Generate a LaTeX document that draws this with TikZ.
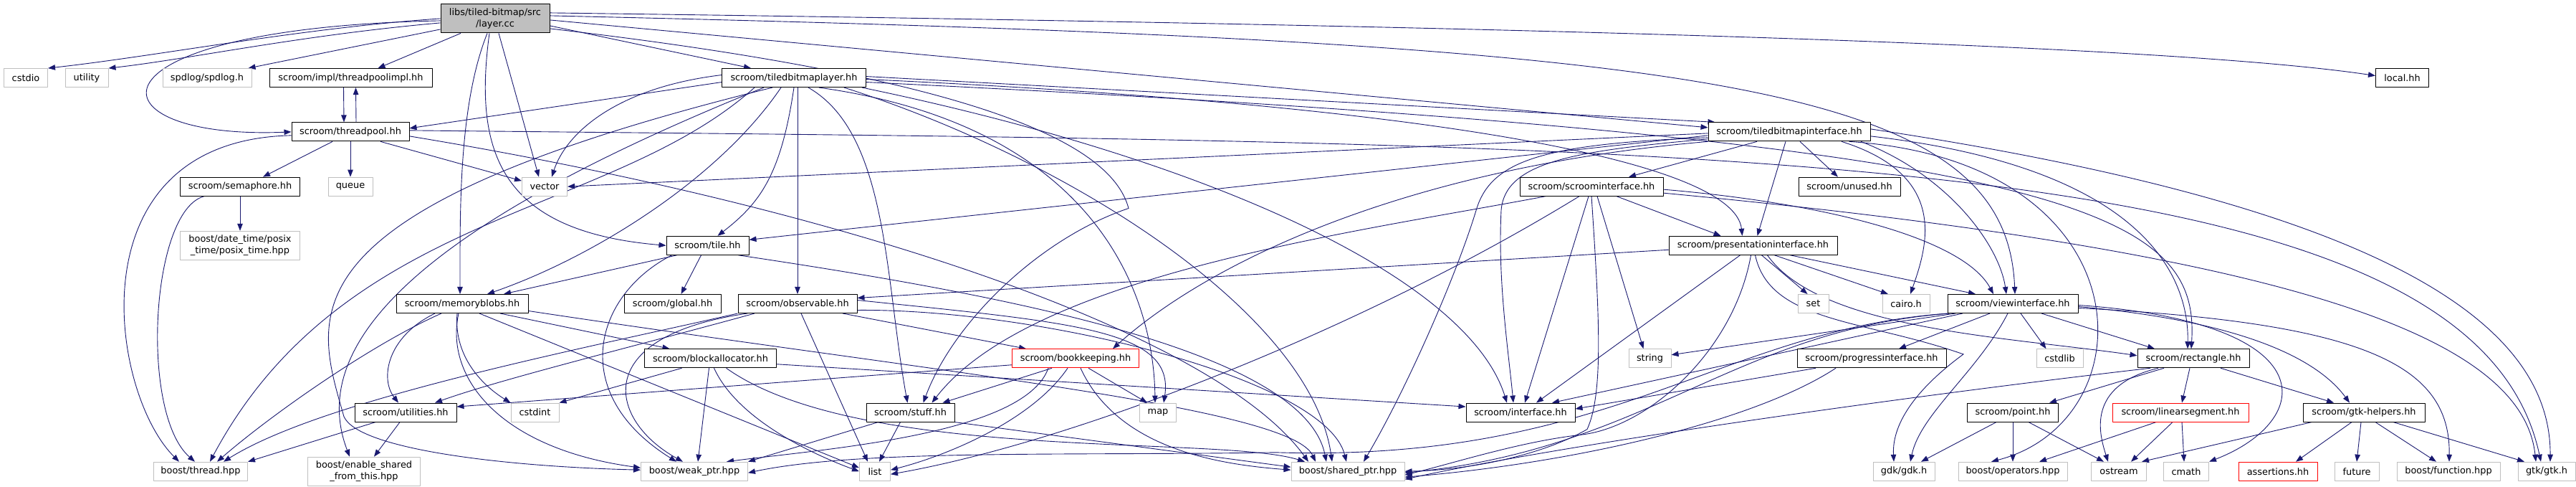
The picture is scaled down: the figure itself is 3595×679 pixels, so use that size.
\documentclass[tikz,border=0pt]{standalone}
\usepackage{fontspec}
\setmainfont{DejaVu Sans}
\usetikzlibrary{arrows.meta,backgrounds}
\definecolor{edgeblue}{HTML}{191970}
\definecolor{sysgray}{HTML}{BFBFBF}
\begin{document}
\begin{tikzpicture}[x=1pt,y=-0.978pt,line cap=round,line join=round,
  box/.style={rectangle,inner sep=0pt,minimum height=26pt,line width=1pt,fill=white,align=center,font=\fontsize{12.9}{15.5}\selectfont},
  hdr/.style={box,draw=black},
  sys/.style={box,draw=sysgray},
  trunc/.style={box,draw=red},
  root/.style={box,draw=black,fill=sysgray,minimum height=40pt},
  bw/.style={minimum width=#1pt},
  dep/.style={draw=edgeblue,line width=0.9pt,-{Triangle[length=10pt,width=7.5pt]}}]
\useasboundingbox (0pt,0pt) rectangle (3595pt,-679pt);
\node[root,bw=152] (layer) at (691,26.5) {libs/tiled-bitmap/src\\/layer.cc};
\node[sys,bw=61] (cstdio) at (36,111) {cstdio};
\node[sys,bw=60] (utility) at (121,111) {utility};
\node[sys,bw=124] (spdlog) at (289,111) {spdlog/spdlog.h};
\node[hdr,bw=227] (tpimpl) at (489.5,111) {scroom/impl/threadpoolimpl.hh};
\node[hdr,bw=201] (tblayer) at (1108,111) {scroom/tiledbitmaplayer.hh};
\node[hdr,bw=74] (local) at (3352.5,111) {local.hh};
\node[hdr,bw=164] (threadpool) at (489,188) {scroom/threadpool.hh};
\node[hdr,bw=226] (tbiface) at (2497,188) {scroom/tiledbitmapinterface.hh};
\node[hdr,bw=167] (semaphore) at (335,266) {scroom/semaphore.hh};
\node[sys,bw=62] (queue) at (489,266) {queue};
\node[sys,bw=63] (vector) at (760,266) {vector};
\node[hdr,bw=200] (scroomiface) at (2221,266) {scroom/scroominterface.hh};
\node[hdr,bw=142] (unused) at (2581,266) {scroom/unused.hh};
\node[sys,bw=167,minimum height=40pt] (posixtime) at (335,350) {boost/date\_time/posix\\\_time/posix\_time.hpp};
\node[hdr,bw=115] (tile) at (987.5,350) {scroom/tile.hh};
\node[hdr,bw=235] (presiface) at (2446.5,350) {scroom/presentationinterface.hh};
\node[hdr,bw=184] (memblobs) at (645,433) {scroom/memoryblobs.hh};
\node[hdr,bw=135] (global) at (938.5,433) {scroom/global.hh};
\node[hdr,bw=166] (observable) at (1113,433) {scroom/observable.hh};
\node[sys,bw=43] (set) at (2530.5,433) {set};
\node[sys,bw=66] (cairo) at (2660,433) {cairo.h};
\node[hdr,bw=182] (viewiface) at (2809,433) {scroom/viewinterface.hh};
\node[hdr,bw=184] (blockalloc) at (991.5,511) {scroom/blockallocator.hh};
\node[trunc,bw=177] (bookkeeping) at (1501,511) {scroom/bookkeeping.hh};
\node[sys,bw=59] (string) at (2302.5,511) {string};
\node[hdr,bw=208] (progress) at (2612,511) {scroom/progressinterface.hh};
\node[sys,bw=65] (cstdlib) at (2874.5,511) {cstdlib};
\node[hdr,bw=156] (rectangle) at (3061,511) {scroom/rectangle.hh};
\node[hdr,bw=142] (utilities) at (566,588) {scroom/utilities.hh};
\node[sys,bw=67] (cstdint) at (746.5,588) {cstdint};
\node[hdr,bw=123] (stuff) at (1270.5,588) {scroom/stuff.hh};
\node[sys,bw=51] (map) at (1616,588) {map};
\node[hdr,bw=152] (iface) at (2122,588) {scroom/interface.hh};
\node[hdr,bw=127] (point) at (2809,588) {scroom/point.hh};
\node[trunc,bw=190] (linseg) at (3043,588) {scroom/linearsegment.hh};
\node[hdr,bw=170] (gtkhelpers) at (3299,588) {scroom/gtk-helpers.hh};
\node[sys,bw=131] (thread) at (280,672) {boost/thread.hpp};
\node[sys,bw=157,minimum height=40pt] (enableshared) at (508,672) {boost/enable\_shared\\\_from\_this.hpp};
\node[sys,bw=149] (weakptr) at (969,672) {boost/weak\_ptr.hpp};
\node[sys,bw=43] (list) at (1221,672) {list};
\node[sys,bw=158] (sharedptr) at (1881,672) {boost/shared\_ptr.hpp};
\node[sys,bw=86] (gdk) at (2657,672) {gdk/gdk.h};
\node[sys,bw=152] (operators) at (2809,672) {boost/operators.hpp};
\node[sys,bw=77] (ostream) at (2957,672) {ostream};
\node[sys,bw=63] (cmath) at (3051,672) {cmath};
\node[trunc,bw=110] (assertions) at (3179,672) {assertions.hh};
\node[sys,bw=62] (future) at (3289,672) {future};
\node[sys,bw=144] (function) at (3417,672) {boost/function.hpp};
\node[sys,bw=80] (gtk) at (3554,672) {gtk/gtk.h};
\begin{pgfonlayer}{background}
\draw[dep] (layer.west) .. controls (420,40) and (220,80) .. (cstdio.north east);
\draw[dep] ([yshift=-6pt]layer.west) .. controls (420,50) and (260,85) .. (utility.north east);
\draw[dep] ([yshift=-15pt]layer.west) -- ([xshift=-5pt]spdlog.north east);
\draw[dep] ([xshift=-48pt]layer.south) -- ([xshift=38pt]tpimpl.north);
\draw[dep] ([yshift=-3pt]layer.west) .. controls (100,40) and (120,200) .. (threadpool.west);
\draw[dep] ([xshift=-11pt]layer.south) .. controls (640,150) and (642,300) .. ([xshift=-3pt]memblobs.north);
\draw[dep] ([xshift=-8pt]layer.south) .. controls (660,220) and (700,330) .. (tile.west);
\draw[dep] ([xshift=5pt]layer.south) -- ([xshift=-8pt]vector.north);
\draw[dep] ([yshift=-10pt]layer.east) -- ([xshift=-60pt]tblayer.north);
\draw[dep] ([yshift=-2pt]layer.east) -- ([yshift=6pt]tbiface.west);
\draw[dep] ([yshift=4pt]layer.east) .. controls (2400,60) and (2800,120) .. ([xshift=3pt]viewiface.north);
\draw[dep] ([yshift=8pt]layer.east) .. controls (2000,35) and (3000,60) .. ([yshift=3pt]local.west);
\draw[dep] ([yshift=-14pt]layer.east) .. controls (1350,110) and (1550,200) .. (1575,297) .. controls (1450,340) and (1330,460) .. ([xshift=18pt]stuff.north);
\draw[dep] ([xshift=-10pt]tpimpl.south) -- ([xshift=-9pt]threadpool.north);
\draw[dep] ([xshift=8pt]threadpool.north) -- ([xshift=7pt]tpimpl.south);
\draw[dep] ([xshift=-25pt]threadpool.south) -- ([xshift=32pt]semaphore.north);
\draw[dep] (threadpool.south) -- (queue.north);
\draw[dep] ([yshift=-5pt]threadpool.west) .. controls (100,200) and (153,560) .. ([xshift=-30pt]thread.north);
\draw[dep] ([xshift=42pt]threadpool.south) -- ([yshift=8pt]vector.west);
\draw[dep] ([yshift=-6pt]threadpool.east) .. controls (1200,300) and (1700,480) .. ([xshift=-55pt]sharedptr.north);
\draw[dep] ([yshift=2pt]threadpool.east) .. controls (2400,205) and (3450,200) .. ([xshift=-8pt]gtk.north);
\draw[dep] (semaphore.south) -- (posixtime.north);
\draw[dep] ([xshift=-50pt]semaphore.south) .. controls (210,300) and (195,590) .. ([xshift=-8pt]thread.north);
\draw[dep] ([yshift=-6pt]tblayer.west) -- ([yshift=5pt]threadpool.east);
\draw[dep] ([yshift=4pt]tblayer.west) .. controls (860,125) and (790,190) .. ([xshift=10pt]vector.north);
\draw[dep] ([xshift=-55pt]tblayer.south) .. controls (850,310) and (480,300) .. ([xshift=13pt]thread.north);
\draw[dep] ([xshift=-42pt]tblayer.south) .. controls (640,300) and (420,470) .. ([xshift=-20pt]enableshared.north);
\draw[dep] ([xshift=-30pt]tblayer.south) .. controls (380,300) and (440,450) .. (480,594) .. controls (500,640) and (700,665) .. ([yshift=2pt]weakptr.west);
\draw[dep] ([xshift=-18pt]tblayer.south) .. controls (1000,260) and (820,370) .. ([xshift=35pt]memblobs.north);
\draw[dep] (tblayer.south) .. controls (1090,250) and (1060,290) .. ([xshift=14pt]tile.north);
\draw[dep] ([xshift=5pt]tblayer.south) -- (observable.north);
\draw[dep] ([xshift=20pt]tblayer.south) .. controls (1240,190) and (1235,400) .. ([xshift=-4pt]stuff.north);
\draw[dep] ([xshift=35pt]tblayer.south) .. controls (1530,180) and (1610,420) .. ([xshift=-4pt]map.north);
\draw[dep] ([xshift=70pt]tblayer.south) .. controls (1500,230) and (1830,450) .. ([xshift=-22pt]sharedptr.north);
\draw[dep] ([yshift=2pt]tblayer.east) -- ([xshift=10pt]tbiface.north west);
\draw[dep] ([yshift=-2pt]tblayer.east) .. controls (2000,150) and (2420,230) .. ([xshift=-15pt]presiface.north);
\draw[dep] ([yshift=-6pt]tblayer.east) .. controls (2900,200) and (3070,300) .. ([xshift=-3pt]rectangle.north);
\draw[dep] ([xshift=95pt]tblayer.south) .. controls (1700,230) and (2050,400) .. ([xshift=-19pt]iface.north);
\draw[dep] ([yshift=-2pt]tbiface.west) -- (vector.east);
\draw[dep] ([yshift=-5pt]tbiface.west) -- ([yshift=8pt]tile.east);
\draw[dep] ([yshift=-8pt]tbiface.west) .. controls (2150,205) and (2080,230) .. (2060,300) .. controls (2030,400) and (1960,560) .. ([xshift=22pt]sharedptr.north);
\draw[dep] ([yshift=-10pt]tbiface.west) .. controls (2200,215) and (2100,230) .. (2095,300) .. controls (2090,400) and (2105,500) .. ([xshift=-10pt]iface.north);
\draw[dep] (tbiface.south west) .. controls (1950,240) and (1680,380) .. ([xshift=52pt]bookkeeping.north);
\draw[dep] ([xshift=-45pt]tbiface.south) -- ([xshift=52pt]scroomiface.north);
\draw[dep] ([xshift=-5pt]tbiface.south) -- ([xshift=6pt]presiface.north);
\draw[dep] ([xshift=15pt]tbiface.south) -- ([xshift=-16pt]unused.north);
\draw[dep] ([xshift=73pt]tbiface.south) .. controls (2720,250) and (2690,350) .. ([xshift=6pt]cairo.north);
\draw[dep] ([xshift=100pt]tbiface.south) .. controls (2720,250) and (2790,350) .. ([xshift=-9pt]viewiface.north);
\draw[dep] ([yshift=-6pt]tbiface.east) .. controls (3000,240) and (3055,400) .. ([xshift=-8pt]rectangle.north);
\draw[dep] ([xshift=-30pt]tbiface.south east) .. controls (3000,230) and (3000,600) .. ([xshift=-30pt]operators.north);
\draw[dep] ([yshift=4pt]tbiface.east) .. controls (3300,290) and (3560,450) .. ([xshift=5pt]gtk.north);
\draw[dep] ([xshift=35pt]scroomiface.south) -- ([xshift=-45pt]presiface.north);
\draw[dep] ([yshift=-4pt]scroomiface.east) .. controls (2550,290) and (2740,340) .. ([xshift=-27pt]viewiface.north);
\draw[dep] ([yshift=-9pt]scroomiface.east) .. controls (3200,360) and (3520,480) .. ([xshift=-15pt]gtk.north);
\draw[dep] ([xshift=-4pt]scroomiface.south) -- ([xshift=6pt]iface.north);
\draw[dep] ([xshift=8pt]scroomiface.south) -- ([xshift=-9pt]string.north);
\draw[dep] (scroomiface.south) .. controls (2232,450) and (2238,560) .. (2215,612) .. controls (2150,650) and (2050,670) .. (sharedptr.east);
\draw[dep] ([xshift=-17pt]scroomiface.south) .. controls (1900,470) and (1500,630) .. ([yshift=-4pt]list.east);
\draw[dep] ([xshift=-64pt]scroomiface.south) .. controls (1900,330) and (1440,390) .. ([xshift=30pt]stuff.north);
\draw[dep] ([yshift=-6pt]presiface.west) -- ([yshift=8pt]observable.east);
\draw[dep] ([xshift=-18pt]presiface.south) -- ([xshift=22pt]iface.north);
\draw[dep] ([xshift=-3pt]presiface.south) .. controls (2420,500) and (2300,610) .. (2205,620) .. controls (2120,630) and (2030,660) .. ([yshift=-5pt]sharedptr.east);
\draw[dep] ([xshift=3pt]presiface.south) .. controls (2470,460) and (2600,455) .. (2740,505) .. controls (2680,550) and (2640,600) .. ([xshift=-14pt]gdk.north);
\draw[dep] ([xshift=12pt]presiface.south) -- ([xshift=-8pt]set.north);
\draw[dep] ([xshift=30pt]presiface.south) -- ([xshift=-25pt]cairo.north);
\draw[dep] ([xshift=52pt]presiface.south) -- ([xshift=-52pt]viewiface.north);
\draw[dep] ([xshift=20pt]presiface.south) .. controls (2540,470) and (2800,480) .. ([yshift=4pt]rectangle.west);
\draw[dep] ([xshift=-32pt]viewiface.south) -- ([xshift=38pt]progress.north);
\draw[dep] ([xshift=-7pt]viewiface.south) .. controls (2760,530) and (2680,590) .. ([xshift=9pt]gdk.north);
\draw[dep] ([xshift=11pt]viewiface.south) -- ([xshift=-19pt]cstdlib.north);
\draw[dep] ([xshift=40pt]viewiface.south) -- ([xshift=-54pt]rectangle.north);
\draw[dep] ([xshift=-80pt]viewiface.south) -- ([yshift=5pt]string.east);
\draw[dep] ([xshift=-70pt]viewiface.south) -- ([xshift=44pt]iface.north);
\draw[dep] ([xshift=-88pt]viewiface.south) .. controls (2420,470) and (2300,640) .. ([yshift=-2pt]sharedptr.east);
\draw[dep] ([xshift=-90pt]viewiface.south) .. controls (2400,470) and (2250,660) .. (1780,645) .. controls (1500,650) and (1200,640) .. ([yshift=-2pt]weakptr.east);
\draw[dep] ([yshift=-4pt]viewiface.east) .. controls (3150,460) and (3240,520) .. ([xshift=-20pt]gtkhelpers.north);
\draw[dep] ([yshift=-2pt]viewiface.east) .. controls (3250,460) and (3230,600) .. (cmath.north east);
\draw[dep] ([yshift=-6pt]viewiface.east) .. controls (3300,460) and (3420,520) .. ([xshift=1pt]function.north);
\draw[dep] ([xshift=-78pt]progress.south) -- ([yshift=5pt]iface.east);
\draw[dep] ([xshift=-50pt]progress.south) .. controls (2450,600) and (2200,660) .. ([yshift=-8pt]sharedptr.east);
\draw[dep] ([xshift=-41pt]rectangle.south) -- ([xshift=51pt]point.north);
\draw[dep] ([xshift=-5pt]rectangle.south) -- ([xshift=2pt]linseg.north);
\draw[dep] ([xshift=38pt]rectangle.south) -- ([xshift=-42pt]gtkhelpers.north);
\draw[dep] ([xshift=-49pt]rectangle.south) .. controls (2910,550) and (2930,620) .. ([xshift=-15pt]ostream.north);
\draw[dep] ([xshift=-60pt]rectangle.south) .. controls (2700,560) and (2200,630) .. ([yshift=-11pt]sharedptr.east);
\draw[dep] ([xshift=-23pt]point.south) -- ([xshift=24pt]gdk.north);
\draw[dep] (point.south) -- (operators.north);
\draw[dep] ([xshift=22pt]point.south) -- ([xshift=-21pt]ostream.north);
\draw[dep] ([xshift=-34pt]linseg.south) -- ([xshift=37pt]operators.north);
\draw[dep] ([xshift=-11pt]linseg.south) -- ([xshift=17pt]ostream.north);
\draw[dep] ([xshift=2pt]linseg.south) -- ([xshift=-3pt]cmath.north);
\draw[dep] ([xshift=-73pt]gtkhelpers.south) .. controls (3150,620) .. ([xshift=32pt]ostream.north);
\draw[dep] ([xshift=-17pt]gtkhelpers.south) -- ([xshift=25pt]assertions.north);
\draw[dep] ([xshift=-4pt]gtkhelpers.south) -- (future.north);
\draw[dep] ([xshift=16pt]gtkhelpers.south) -- ([xshift=-17pt]function.north);
\draw[dep] ([xshift=41pt]gtkhelpers.south) -- ([xshift=-31pt]gtk.north);
\draw[dep] ([xshift=63pt]observable.south) -- ([xshift=-69pt]bookkeeping.north);
\draw[dep] (observable.south west) .. controls (800,500) and (450,570) .. ([xshift=32pt]thread.north);
\draw[dep] ([xshift=-60pt]observable.south) .. controls (900,490) and (700,540) .. ([xshift=41pt]utilities.north);
\draw[dep] ([xshift=-70pt]observable.south) .. controls (820,480) and (850,600) .. ([xshift=-16pt]weakptr.north);
\draw[dep] ([xshift=5pt]observable.south) -- ([xshift=-10pt]list.north);
\draw[dep] ([yshift=5pt]observable.east) .. controls (1500,460) and (1640,470) .. ([xshift=8pt]map.north);
\draw[dep] ([yshift=-9pt]observable.east) .. controls (1450,440) and (1850,540) .. ([xshift=-2pt]sharedptr.north);
\draw[dep] ([yshift=-9pt]bookkeeping.west) -- ([yshift=8pt]utilities.east);
\draw[dep] ([xshift=-33pt]bookkeeping.south) -- ([xshift=45pt]stuff.north);
\draw[dep] ([xshift=-38pt]bookkeeping.south) .. controls (1430,620) and (1150,640) .. ([xshift=45pt]weakptr.north);
\draw[dep] ([xshift=-11pt]bookkeeping.south) .. controls (1440,600) and (1320,650) .. ([yshift=2pt]list.east);
\draw[dep] ([xshift=18pt]bookkeeping.south) -- ([xshift=-15pt]map.north);
\draw[dep] ([xshift=7pt]bookkeeping.south) .. controls (1560,640) and (1700,662) .. ([yshift=2pt]sharedptr.west);
\draw[dep] ([xshift=-45pt]stuff.south) -- (weakptr.north east);
\draw[dep] ([xshift=-14pt]stuff.south) -- ([xshift=6pt]list.north);
\draw[dep] (stuff.south east) -- ([yshift=6pt]sharedptr.west);
\draw[dep] ([xshift=-40pt]blockalloc.south) -- (cstdint.north east);
\draw[dep] ([xshift=-2pt]blockalloc.south) -- ([xshift=5pt]weakptr.north);
\draw[dep] ([xshift=5pt]blockalloc.south) .. controls (1030,600) and (1140,650) .. (list.west);
\draw[dep] ([xshift=22pt]blockalloc.south) .. controls (1200,660) and (1700,620) .. ([xshift=-60pt]sharedptr.north);
\draw[dep] ([yshift=-8pt]blockalloc.east) -- ([yshift=8pt]iface.west);
\draw[dep] ([xshift=-29pt]memblobs.south) .. controls (520,490) and (380,590) .. ([xshift=23pt]thread.north);
\draw[dep] ([xshift=-38pt]memblobs.south) .. controls (540,480) and (530,540) .. ([xshift=-10pt]utilities.north);
\draw[dep] ([xshift=-5pt]memblobs.south) .. controls (620,540) and (700,640) .. ([yshift=5pt]weakptr.west);
\draw[dep] ([xshift=-7pt]memblobs.south) .. controls (632,520) and (690,560) .. (cstdint.north west);
\draw[dep] ([xshift=24pt]memblobs.south) -- ([yshift=5pt]list.west);
\draw[dep] ([xshift=53pt]memblobs.south) -- ([xshift=-57pt]blockalloc.north);
\draw[dep] ([yshift=-10pt]memblobs.east) .. controls (1300,530) and (1800,580) .. ([xshift=-45pt]sharedptr.north);
\draw[dep] ([xshift=-43pt]tile.south) -- ([xshift=58pt]memblobs.north);
\draw[dep] ([xshift=-9pt]tile.south) -- ([xshift=12pt]global.north);
\draw[dep] ([xshift=-50pt]tile.south) .. controls (830,420) and (790,560) .. ([xshift=-25pt]weakptr.north);
\draw[dep] ([xshift=-15pt]tile.south east) .. controls (1400,420) and (1820,500) .. ([xshift=-30pt]sharedptr.north);
\draw[dep] ([xshift=-42pt]utilities.south) -- (thread.north east);
\draw[dep] ([xshift=-8pt]utilities.south) -- ([xshift=14pt]enableshared.north);
\end{pgfonlayer}
\end{tikzpicture}
\end{document}
